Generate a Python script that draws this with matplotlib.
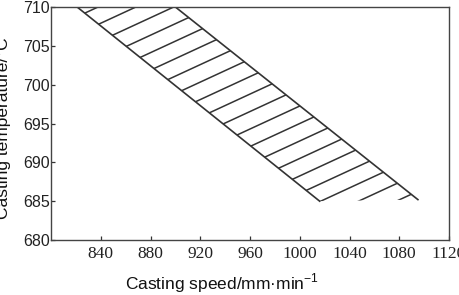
#!/usr/bin/env python3

import matplotlib

matplotlib.use("Agg")
from matplotlib import pyplot as plt
from matplotlib.patches import Polygon

out_filename = "out.png"

# band edges (casting speed, casting temperature)
left_edge_x = [821, 1016]
left_edge_y = [710, 685]
right_edge_x = [900, 1095]
right_edge_y = [710, 685.2]

# hatch lines: temperature at speed 800 and slope (degC per mm/min)
hatch_x0 = 800
hatch_slope = 0.074
hatch_y0 = [707.2, 704.95, 702.7, 700.45, 698.2, 695.95, 693.7, 691.45,
            689.2, 686.95, 684.7, 682.45, 680.2, 677.95, 675.7, 673.45,
            671.2, 668.95, 666.7, 664.45]

x_ticks = [840, 880, 920, 960, 1000, 1040, 1080, 1120]
y_ticks = [680, 685, 690, 695, 700, 705, 710]

line_color = "#333333"


def main():
    plt.rcParams["mathtext.fontset"] = "custom"
    plt.rcParams["mathtext.rm"] = "Liberation Sans"

    fig = plt.figure(figsize=(4.6, 2.95), dpi=100)
    ax = fig.add_axes([51 / 460, 1 - 240 / 295, 398 / 460, 233 / 295])

    ax.set_xlim(800, 1120)
    ax.set_ylim(680, 710)

    band = Polygon(
        [
            (left_edge_x[0], left_edge_y[0]),
            (right_edge_x[0], right_edge_y[0]),
            (right_edge_x[1], right_edge_y[1]),
            (left_edge_x[1], left_edge_y[1]),
        ],
        closed=True,
        facecolor="none",
        edgecolor="none",
        transform=ax.transData,
    )
    ax.add_patch(band)

    xs = [800, 1120]
    for y0 in hatch_y0:
        ys = [y0 + hatch_slope * (x - hatch_x0) for x in xs]
        (ln,) = ax.plot(xs, ys, color=line_color, linewidth=1.1,
                        solid_capstyle="butt")
        ln.set_clip_path(band)

    ax.plot(left_edge_x, left_edge_y, color=line_color, linewidth=1.2)
    ax.plot(right_edge_x, right_edge_y, color=line_color, linewidth=1.2)

    ax.set_xticks(x_ticks)
    ax.set_xticklabels([str(v) for v in x_ticks],
                       fontfamily="Liberation Serif", fontsize=12.5)
    ax.set_yticks(y_ticks)
    ax.set_yticklabels([str(v) for v in y_ticks],
                       fontfamily="Liberation Sans", fontsize=11.5)
    ax.tick_params(axis="both", direction="in", length=3, width=0.9,
                   colors=line_color, labelcolor="#222222")
    ax.tick_params(axis="x", pad=4)
    ax.tick_params(axis="y", pad=1)

    for side in ["left", "bottom", "top", "right"]:
        ax.spines[side].set_color("#444444")
        ax.spines[side].set_linewidth(1.0)

    fig.text(222 / 460, 1 - 283 / 295,
             r"Casting speed/mm·min$^{\mathregular{-1}}$",
             ha="center", va="center", fontsize=12.5,
             fontfamily="Liberation Sans", color="#111111")
    fig.text(4 / 460, 1 - 128 / 295, "Casting temperature/°C",
             rotation=90, ha="center", va="center", fontsize=12.5,
             fontfamily="Liberation Sans", color="#111111")

    fig.savefig(out_filename, dpi=100)
    plt.close()


if __name__ == "__main__":
    main()
